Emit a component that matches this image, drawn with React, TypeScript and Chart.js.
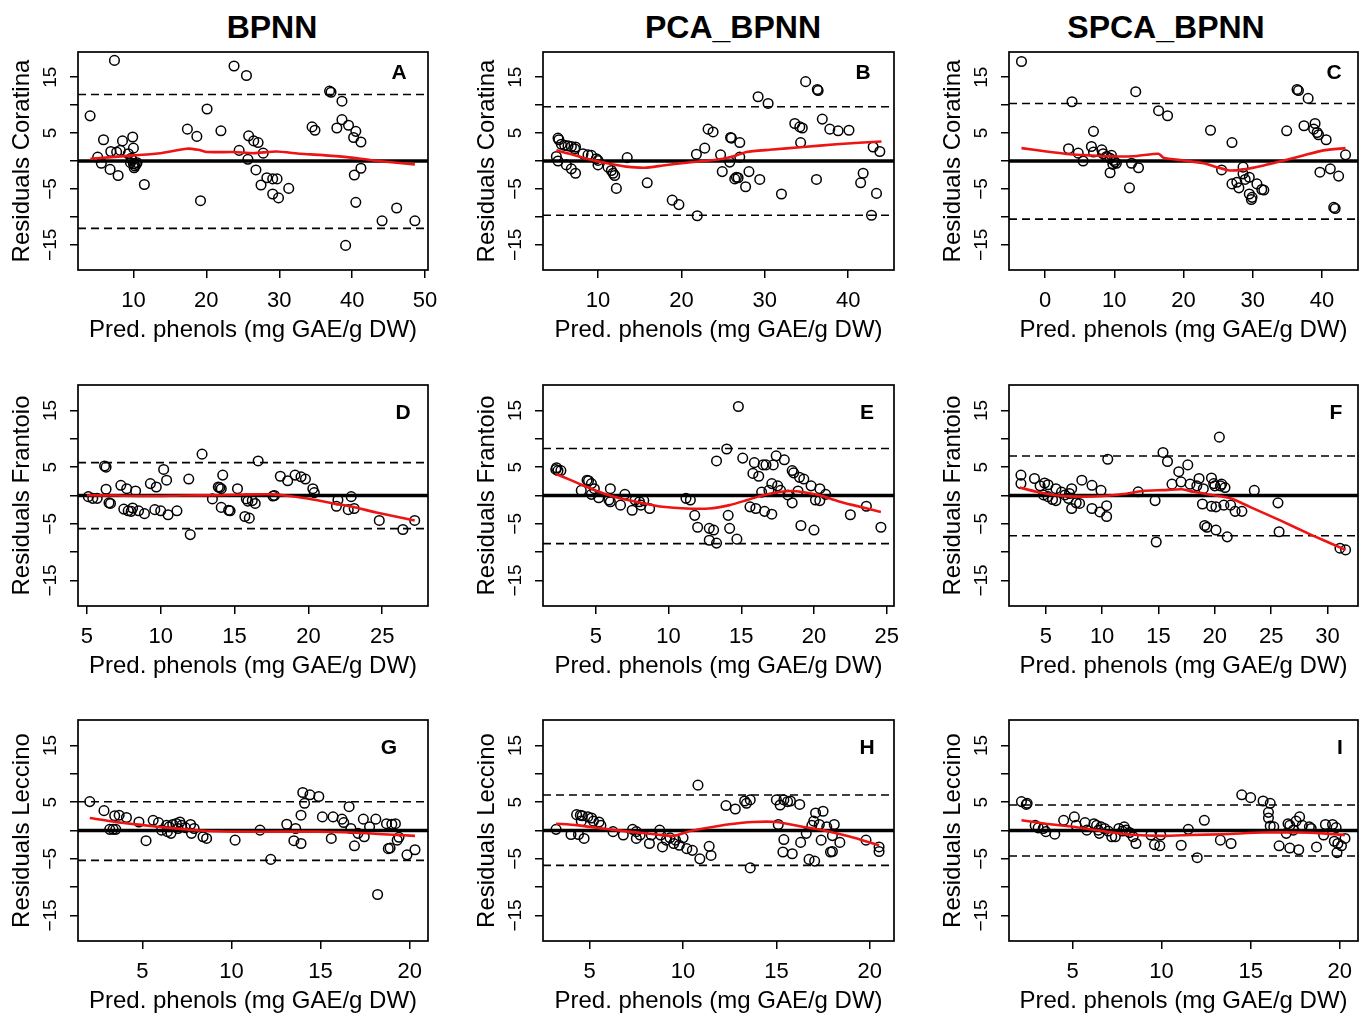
import { useEffect, useRef } from 'react';
import { Chart, registerables } from 'chart.js';

Chart.register(...registerables);

const FONT = '"Liberation Sans", Arial, Helvetica, sans-serif';

// ---------------- DATA ----------------
const methodTitles = ['BPNN', 'PCA_BPNN', 'SPCA_BPNN'];
const cultivarLabels = ['Residuals Coratina', 'Residuals Frantoio', 'Residuals Leccino'];
const panelLetters = ['A', 'B', 'C', 'D', 'E', 'F', 'G', 'H', 'I'];
const xAxisTitle = 'Pred. phenols (mg GAE/g DW)';

const yTickValues = [-15, -10, -5, 0, 5, 10, 15];
const yTickLabels = ['\u221215', '', '\u22125', '', '5', '', '15'];
const yRange = [-19.5, 19.5];

const xTickSets = [
  [10, 20, 30, 40, 50],
  [10, 20, 30, 40],
  [0, 10, 20, 30, 40],
  [5, 10, 15, 20, 25],
  [5, 10, 15, 20, 25],
  [5, 10, 15, 20, 25, 30],
  [5, 10, 15, 20],
  [5, 10, 15, 20],
  [5, 10, 15, 20],
];
const xRanges = [
  [2.4, 50.4],
  [3.4, 45.5],
  [-5.2, 45.2],
  [4.4, 28.1],
  [1.37, 25.5],
  [1.74, 32.7],
  [1.38, 21.03],
  [2.5, 21.3],
  [1.43, 21.03],
];

const upperLimits = [11.9, 9.7, 10.3, 5.8, 8.3, 6.97, 5.07, 6.26, 4.5];
const lowerLimits = [-12.05, -9.7, -10.4, -5.85, -8.5, -7.1, -5.27, -6.15, -4.5];

const aPoints = [[4.06,8.08],[7.4,18.0],[5.1,0.7],[5.6,-0.4],[5.9,3.8],[6.9,1.7],[6.8,-1.5],[7.9,-2.6],[7.7,1.6],[8.2,1.9],[8.5,3.6],[9.3,1.3],[9.9,4.3],[10.0,2.3],[9.7,0.5],[9.6,-0.3],[10.0,-0.5],[10.2,-0.9],[10.4,-0.6],[10.1,-1.2],[10.5,-0.3],[9.8,0.2],[11.5,-4.2],[17.4,5.7],[18.7,4.4],[19.2,-7.1],[20.1,9.3],[22.0,5.4],[23.8,17.0],[25.5,15.3],[24.5,1.9],[25.7,0.3],[25.8,4.5],[26.5,3.6],[27.1,3.3],[26.8,-1.6],[27.8,1.4],[27.5,-4.3],[28.3,-3.0],[29.1,-3.2],[29.7,-3.2],[29.1,-5.9],[29.9,-6.6],[31.3,-4.9],[34.5,6.1],[34.9,5.5],[36.9,12.5],[37.1,12.3],[37.9,5.9],[38.6,10.7],[38.6,7.4],[39.5,6.4],[40.5,5.3],[40.2,4.2],[41.2,3.4],[41.2,-1.3],[40.3,-2.5],[40.5,-7.4],[39.1,-15.1],[44.1,-10.7],[46.1,-8.4],[48.6,-10.7]];
const aFit = [[4.1,0.4],[10,1.0],[13.7,1.4],[17.3,2.2],[18.9,2.0],[20.1,1.6],[23.7,1.6],[26.5,1.4],[29.6,1.7],[32.9,1.3],[35.6,1.1],[39.3,0.7],[42.9,0.1],[48.6,-0.6]];

const bPoints = [[5.2,4.1],[5.3,3.8],[5.6,3.0],[6.0,2.8],[6.4,2.7],[6.8,2.6],[7.2,2.2],[7.3,2.5],[5.0,0.8],[5.2,0],[6.2,-0.7],[6.8,-1.4],[7.3,-2.2],[8.2,1.3],[8.8,1.1],[9.2,1.0],[9.8,0.4],[10.0,0.1],[10.0,-0.7],[11.2,-1.1],[11.6,-1.7],[11.8,-2.2],[12.0,-2.6],[12.2,-4.9],[13.5,0.6],[15.9,-3.9],[18.9,-7.0],[19.7,-7.8],[21.9,-9.8],[21.8,1.2],[22.8,2.3],[23.2,5.7],[23.8,5.2],[24.7,1.1],[24.9,-1.9],[25.8,-0.2],[25.9,4.2],[26.0,4.1],[27.0,3.3],[27.0,0.7],[26.4,-3.2],[26.6,-2.9],[26.8,-3.0],[27.7,-4.6],[28.1,-1.9],[29.2,11.5],[30.4,10.3],[29.4,-3.3],[32.0,-5.9],[33.6,6.7],[34.2,6.1],[34.5,5.9],[34.3,3.3],[34.9,14.2],[36.3,12.8],[36.4,12.6],[36.2,-3.3],[36.9,7.5],[37.8,5.7],[38.8,5.4],[40.1,5.5],[41.8,-2.2],[41.5,-3.9],[42.8,-9.7],[43.0,2.5],[43.8,1.7],[43.4,-5.8]];
const bFit = [[5.0,1.9],[6.6,1.3],[8.6,0.4],[11.4,-0.5],[13.4,-1.0],[15.6,-1.2],[17.8,-0.8],[20.6,-0.3],[23.4,0.1],[25.0,0.4],[26.6,1.0],[27.8,1.6],[30.6,2.0],[34.6,2.5],[38.6,3.0],[44.0,3.5]];

const cPoints = [[-3.4,17.8],[3.4,2.2],[3.9,10.6],[4.8,1.4],[5.5,0],[7.0,5.3],[6.7,2.6],[7.0,1.6],[8.2,2.0],[8.4,1.3],[8.9,0.8],[9.4,0.5],[9.6,1.0],[9.9,0.1],[10.1,-0.2],[10.3,-0.4],[9.8,-0.6],[9.4,-2.1],[12.2,-4.8],[12.5,-0.4],[13.1,12.4],[13.5,-1.2],[16.4,9.0],[17.7,8.1],[23.9,5.5],[25.5,-1.6],[27.0,3.3],[27.0,-4.1],[27.7,-3.8],[28.0,-4.8],[28.6,-1.1],[28.6,-2.3],[28.9,-3.3],[29.5,-2.9],[29.5,-5.9],[29.9,-6.5],[29.8,-6.9],[30.6,-4.1],[31.3,-5.1],[31.6,-5.2],[34.9,5.4],[36.4,12.8],[36.6,12.6],[38.0,11.2],[37.4,6.3],[39.0,6.7],[38.8,5.7],[39.3,5.1],[39.5,4.7],[40.6,3.8],[39.7,-2.0],[41.2,-1.4],[42.4,-2.7],[41.7,-8.3],[41.9,-8.5],[43.4,1.1]];
const cFit = [[-3.4,2.3],[0.2,1.7],[3.6,1.2],[6.5,1.0],[10.4,0.8],[13.3,0.9],[16.4,1.3],[17.1,0.6],[20.0,0.1],[22.9,-0.4],[24.8,-1.1],[26.7,-1.7],[28.7,-1.5],[31.6,-0.8],[34.5,0.1],[37.3,1.0],[40.2,1.9],[43.4,2.3]];

const dPoints = [[5.1,-0.2],[5.4,-0.5],[5.7,-0.5],[6.2,5.2],[6.3,5.0],[6.3,1.1],[6.5,-1.3],[6.6,-1.4],[7.3,1.8],[7.7,1.2],[7.5,-2.4],[7.8,-2.7],[8.0,-2.8],[8.1,-2.2],[8.3,0.8],[8.5,-2.7],[8.9,-3.2],[9.3,2.1],[9.7,1.5],[9.6,-2.5],[10.0,-2.7],[10.2,4.6],[10.4,2.7],[10.5,-3.4],[11.1,-2.7],[11.9,2.9],[12.0,-6.9],[12.8,7.3],[13.5,-0.6],[13.9,1.5],[14.0,1.4],[14.2,3.6],[14.1,1.2],[14.1,-2.1],[14.6,-2.6],[14.7,-2.7],[15.2,1.2],[15.8,-0.6],[15.9,-1.0],[16.2,-0.9],[15.7,-3.7],[16.0,-4.0],[16.4,-1.4],[16.6,6.1],[17.6,-0.1],[17.7,0.0],[18.1,3.4],[18.6,2.6],[19.1,3.6],[19.5,3.3],[19.8,2.9],[20.3,1.2],[20.4,0.5],[22.0,-0.8],[21.9,-1.9],[22.7,-2.5],[22.9,-0.2],[23.1,-2.3],[24.8,-4.4],[26.4,-6.0],[27.2,-4.4]];
const dFit = [[5.0,0.05],[7.0,0],[9.2,-0.1],[11.5,0],[13.8,0.05],[16.3,0.2],[17.6,0.2],[18.7,-0.1],[20.3,-0.7],[21.7,-1.4],[23.0,-2.0],[24.6,-3.0],[27.2,-4.4]];

const ePoints = [[2.25,4.6],[2.4,4.4],[2.6,4.4],[2.3,4.9],[4.0,0.9],[4.4,2.7],[4.5,2.6],[4.7,2.1],[4.9,1.2],[4.7,0.2],[5.2,-0.4],[6.0,1.2],[5.9,-0.8],[6.0,-1.1],[6.7,-1.7],[7.0,0.2],[7.5,-2.6],[7.7,-0.8],[8.0,-1.1],[8.1,-1.7],[8.3,-0.9],[8.7,-2.3],[11.2,-0.5],[11.5,-0.8],[11.8,-3.5],[12.0,-5.6],[12.8,-5.8],[13.1,-6.1],[12.8,-7.9],[13.3,-8.4],[13.3,6.1],[14.0,8.2],[14.1,-3.5],[14.2,-5.8],[14.7,-7.7],[14.8,15.7],[15.1,6.6],[15.6,-2.0],[15.9,5.8],[15.8,3.9],[16.2,3.4],[16.0,-2.3],[16.4,0.6],[16.5,5.4],[16.7,5.4],[16.9,0.9],[16.6,-2.8],[17.1,-3.3],[17.1,2.1],[17.2,5.4],[17.4,7.0],[17.5,1.7],[17.7,0.9],[17.96,6.3],[18.2,0.1],[18.5,4.4],[18.6,4.0],[18.5,-1.3],[18.9,0.8],[19.0,3.2],[19.3,2.9],[19.1,-5.3],[19.8,1.7],[20.1,-0.8],[20.0,-6.1],[20.4,1.2],[20.4,-0.9],[20.8,0.2],[22.5,-3.4],[23.6,-1.9],[24.6,-5.6]];
const eFit = [[2.25,3.8],[3.2,2.8],[4.4,1.5],[5.5,0.4],[6.65,-0.5],[8.3,-1.4],[9.6,-2.0],[11.2,-2.3],[12.8,-2.3],[14.2,-1.7],[15.4,-0.8],[16.5,0.05],[17.7,0.65],[18.6,0.8],[19.5,0.5],[20.4,0.05],[21.6,-0.95],[22.7,-1.7],[24.6,-2.9]];

const fPoints = [[2.8,3.6],[2.8,2.1],[4.0,3.0],[4.5,1.7],[4.9,2.2],[5.2,1.9],[4.8,0.1],[5.2,-0.2],[5.6,-0.7],[5.9,-0.9],[5.9,1.2],[6.4,0.6],[6.7,0.1],[7.0,-0.5],[7.1,0.35],[7.3,1.2],[7.3,-2.3],[7.7,-1.3],[8.0,-1.4],[8.2,2.7],[9.1,1.8],[9.1,-2.3],[9.8,-2.9],[9.9,0.9],[10.4,-1.8],[10.4,-3.7],[10.5,6.4],[13.2,0.65],[14.7,-0.9],[14.8,-8.2],[15.4,7.6],[15.8,6.0],[16.2,2.0],[16.8,4.2],[17.0,2.4],[17.6,5.4],[17.8,2.0],[18.6,3.0],[18.4,1.7],[18.9,-1.5],[18.98,1.2],[19.1,-5.3],[19.3,-5.6],[19.7,3.1],[19.9,2.1],[19.7,-1.9],[20.1,-2.0],[20.1,-6.1],[20.0,1.7],[20.4,10.3],[20.5,1.7],[20.6,2.0],[20.8,-1.7],[20.9,1.4],[21.1,-7.3],[21.4,-1.7],[21.8,-2.8],[22.4,-2.8],[23.5,0.9],[25.6,-1.3],[25.7,-6.4],[31.1,-9.3],[31.6,-9.6]];
const fFit = [[2.7,1.4],[4.2,0.65],[5.9,0.05],[8.0,-0.2],[10.1,-0.1],[11.9,0.25],[13.6,0.8],[15.4,0.95],[17.1,1.1],[18.1,0.65],[19.9,0.05],[21.4,-0.5],[23.1,-2.0],[25.8,-4.4],[28.5,-6.9],[31.6,-9.6]];

const gPoints = [[2.04,5.1],[2.84,3.5],[3.16,0.2],[3.35,0.2],[3.5,0.2],[3.44,2.6],[3.69,2.7],[4.1,2.3],[4.8,1.5],[5.2,-1.8],[5.6,1.8],[5.9,1.4],[6.07,0.06],[6.35,0.9],[6.4,-0.2],[6.5,0.65],[6.6,-0.5],[6.7,1.06],[6.9,1.24],[7.0,0.35],[7.1,1.5],[7.2,0.9],[7.4,0.5],[7.7,1.06],[7.75,-0.5],[7.9,0.35],[8.4,-1.1],[8.6,-1.4],[10.2,-1.7],[11.6,0.06],[12.2,-5.1],[13.1,1.1],[13.6,0.35],[13.5,-1.8],[13.9,-2.3],[13.9,2.7],[14.0,6.7],[14.1,4.8],[14.4,6.3],[14.9,6.0],[15.1,2.4],[15.6,-1.4],[15.7,2.4],[16.2,2.0],[16.3,1.4],[16.6,4.2],[16.7,0.35],[16.9,-2.7],[17.1,-0.5],[17.4,2.0],[17.45,-1.1],[17.75,0.65],[18.1,2.0],[18.2,-11.3],[18.7,1.2],[18.8,-3.2],[18.9,-3.1],[19.0,1.1],[19.2,1.2],[19.3,-1.7],[19.4,-1.2],[19.85,-4.3],[20.3,-3.4]];
const gFit = [[2.04,2.2],[3.5,1.5],[5.04,0.95],[6.35,0.5],[8.2,0],[10.1,-0.2],[12.9,-0.2],[14.8,-0.2],[16.7,-0.35],[18.5,-0.65],[20.3,-0.95]];

const hPoints = [[3.2,0.2],[4.0,-0.7],[4.3,2.8],[4.5,2.7],[4.4,-0.7],[4.55,1.65],[4.6,2.6],[4.7,-1.4],[4.9,2.4],[5.1,2.2],[5.2,1.65],[5.5,1.5],[5.6,0.9],[6.25,-0.2],[6.8,-0.8],[7.3,0.2],[7.5,-0.2],[7.5,-1.4],[7.7,-0.8],[8.2,-2.3],[8.3,-0.8],[8.75,0.06],[8.8,-0.8],[8.9,-2.9],[9.1,-1.7],[9.3,-1.3],[9.5,-2.3],[9.6,-1.7],[9.8,-2.6],[10.0,-1.3],[10.2,-3.2],[10.5,-3.5],[10.8,8.0],[10.9,-5.0],[11.4,-2.8],[11.5,-4.4],[12.3,4.4],[12.8,3.8],[13.3,5.2],[13.4,4.8],[13.6,5.4],[13.6,-6.6],[15.0,5.4],[15.1,1.06],[15.2,4.5],[15.4,5.4],[15.4,-1.6],[15.35,-3.8],[15.6,5.1],[15.85,-4.1],[15.75,5.2],[16.25,4.6],[16.3,-2.1],[16.6,-0.5],[16.75,-5.1],[16.9,0.9],[17.0,1.65],[17.05,-5.4],[17.1,3.1],[17.3,1.06],[17.4,-1.7],[17.5,3.4],[17.7,0.65],[17.9,-3.8],[18.0,-3.7],[18.1,1.06],[18.0,-0.9],[18.4,-2.1],[19.8,-1.7],[20.5,-2.9],[20.5,-3.7]];
const hFit = [[3.2,1.2],[4.3,0.95],[5.7,0.35],[7.1,-0.2],[8.6,-0.7],[9.5,-0.95],[10.4,-0.1],[11.1,0.35],[12.5,1.1],[13.75,1.5],[15.0,1.5],[16.4,0.65],[17.5,0.05],[18.6,-0.8],[19.6,-1.7],[20.5,-2.6]];

const iPoints = [[2.13,5.1],[2.4,4.6],[2.45,4.8],[2.9,0.9],[3.07,0.47],[3.35,0.35],[3.5,-0.2],[4.0,-0.65],[4.5,1.8],[5.1,2.4],[5.2,0.9],[5.7,1.4],[5.8,0.06],[6.2,1.2],[6.35,0.9],[6.45,0.06],[6.5,-0.5],[6.6,0.65],[6.8,0.35],[7.0,-0.1],[7.2,-1.1],[7.4,-1.1],[7.6,0.35],[7.8,-0.1],[7.9,0.65],[8.0,0.06],[8.2,-0.35],[8.4,-1.1],[8.56,-2.3],[9.4,-0.8],[9.6,-2.5],[9.9,-2.7],[9.95,-0.8],[11.1,-2.6],[11.5,0.2],[12.0,-4.8],[12.4,1.8],[13.3,-1.7],[13.9,-2.3],[14.5,6.3],[15.0,5.8],[15.7,5.2],[16.0,3.2],[16.0,2.2],[16.1,0.8],[16.1,4.8],[16.3,0.65],[16.6,-2.7],[17.0,-0.5],[17.1,1.2],[17.2,0.9],[17.2,-3.1],[17.4,0.06],[17.55,1.65],[17.7,-3.4],[17.75,2.4],[17.9,0.9],[18.3,0.65],[18.4,0.35],[18.7,-2.9],[19.1,-0.8],[19.2,1.06],[19.6,1.06],[19.7,-1.9],[19.8,0.5],[19.85,-3.9],[19.9,-2.3],[20.1,-2.7],[20.3,-1.4]];
const iFit = [[2.13,1.8],[3.5,1.2],[5.04,0.65],[6.7,-0.1],[8.2,-0.7],[10.1,-0.95],[11.6,-0.8],[13.5,-0.65],[15.7,-0.35],[17.6,-0.35],[19.1,-0.5],[20.3,-0.8]];

const residualSets = [aPoints, bPoints, cPoints, dPoints, ePoints, fPoints, gPoints, hPoints, iPoints];
const fitSets = [aFit, bFit, cFit, dFit, eFit, fFit, gFit, hFit, iFit];

// ---------------- LAYOUT ----------------
const colLefts = [78, 543, 1009];
const colRights = [428, 894, 1358];
const rowTops = [52, 385, 720];
const rowBottoms = [270, 606, 941];
const Y_AXIS_W = 78;
const X_AXIS_H = 80;
const PAD_TOP = 12;
const PAD_RIGHT = 9;
const titleCenters = [272, 733, 1166];
const letterOffsets = [[29, 21], [31, 21], [24, 21], [25, 28], [27, 28], [22, 28], [39, 28], [27, 28], [18, 28]];

const framePlugin = {
  id: 'frame',
  afterDatasetsDraw(chart: any, _args: any, opts: any) {
    const { ctx, chartArea: a } = chart;
    ctx.save();
    ctx.strokeStyle = '#000';
    ctx.lineWidth = 1.7;
    ctx.strokeRect(a.left, a.top, a.right - a.left, a.bottom - a.top);
    ctx.font = `bold 21px ${FONT}`;
    ctx.fillStyle = '#000';
    ctx.textAlign = 'center';
    ctx.textBaseline = 'middle';
    ctx.fillText(opts.letter, a.right - opts.dx, a.top + opts.dy);
    ctx.restore();
  },
};

function ResidualPanel({ index }: { index: number }) {
  const ref = useRef<HTMLCanvasElement | null>(null);
  const row = Math.floor(index / 3);
  const col = index % 3;
  const canvasLeft = colLefts[col] - Y_AXIS_W;
  const canvasTop = rowTops[row] - PAD_TOP;
  const width = colRights[col] + PAD_RIGHT - canvasLeft;
  const height = rowBottoms[row] + X_AXIS_H - canvasTop;

  useEffect(() => {
    const canvas = ref.current;
    if (!canvas) return;
    const [xMin, xMax] = xRanges[index];
    const pts = residualSets[index].map(([x, y]) => ({ x, y }));
    const fit = fitSets[index].map(([x, y]) => ({ x, y }));
    const xTicks = xTickSets[index];
    const chart = new Chart(canvas, {
      type: 'scatter',
      data: {
        datasets: [
          {
            data: fit,
            showLine: true,
            borderColor: 'rgb(238,20,20)',
            borderWidth: 2.6,
            pointRadius: 0,
            tension: 0.2,
            order: 0,
          },
          {
            data: [{ x: xMin, y: 0 }, { x: xMax, y: 0 }],
            showLine: true,
            borderColor: '#000',
            borderWidth: 3.5,
            pointRadius: 0,
            order: 1,
          },
          {
            data: [{ x: xMin, y: upperLimits[index] }, { x: xMax, y: upperLimits[index] }],
            showLine: true,
            borderColor: '#000',
            borderWidth: 1.6,
            borderDash: [8, 5],
            pointRadius: 0,
            order: 2,
          },
          {
            data: [{ x: xMin, y: lowerLimits[index] }, { x: xMax, y: lowerLimits[index] }],
            showLine: true,
            borderColor: '#000',
            borderWidth: 1.6,
            borderDash: [8, 5],
            pointRadius: 0,
            order: 2,
          },
          {
            data: pts,
            showLine: false,
            pointStyle: 'circle',
            pointRadius: 4.8,
            pointHoverRadius: 4.8,
            pointBorderWidth: 1.5,
            borderColor: '#000',
            backgroundColor: 'rgba(0,0,0,0)',
            order: 3,
          },
        ],
      },
      options: {
        animation: false,
        responsive: false,
        maintainAspectRatio: false,
        events: [],
        layout: { padding: { top: PAD_TOP, right: PAD_RIGHT, left: 0, bottom: 0 } },
        plugins: {
          legend: { display: false },
          tooltip: { enabled: false },
          frame: { letter: panelLetters[index], dx: letterOffsets[index][0], dy: letterOffsets[index][1] },
        } as any,
        scales: {
          x: {
            type: 'linear',
            min: xMin,
            max: xMax,
            afterBuildTicks: (s: any) => {
              s.ticks = xTicks.map((v) => ({ value: v }));
            },
            afterFit: (s: any) => {
              s.height = X_AXIS_H;
              s.paddingLeft = 0;
              s.paddingRight = 0;
            },
            ticks: {
              autoSkip: false,
              maxRotation: 0,
              minRotation: 0,
              padding: 10,
              color: '#000',
              font: { family: FONT, size: 22 },
              callback: (v: any) => String(v),
            },
            grid: {
              display: true,
              drawOnChartArea: false,
              drawTicks: true,
              tickLength: 8,
              color: '#000',
              lineWidth: 1.5,
            },
            border: { display: false },
            title: {
              display: true,
              text: xAxisTitle,
              color: '#000',
              font: { family: FONT, size: 24 },
              padding: { top: 0, bottom: 5 },
            },
          },
          y: {
            type: 'linear',
            min: yRange[0],
            max: yRange[1],
            afterBuildTicks: (s: any) => {
              s.ticks = yTickValues.map((v) => ({ value: v }));
            },
            afterFit: (s: any) => {
              s.width = Y_AXIS_W;
              s.paddingTop = 0;
              s.paddingBottom = 0;
            },
            ticks: {
              autoSkip: false,
              minRotation: 90,
              maxRotation: 90,
              crossAlign: 'center',
              padding: 3.5,
              color: '#000',
              font: { family: FONT, size: 19 },
              callback: (_v: any, i: number) => yTickLabels[i],
            },
            grid: {
              display: true,
              drawOnChartArea: false,
              drawTicks: true,
              tickLength: 8,
              color: '#000',
              lineWidth: 1.5,
            },
            border: { display: false },
            title: {
              display: true,
              text: cultivarLabels[row],
              color: '#000',
              font: { family: FONT, size: 24 },
              padding: { top: 8, bottom: 0 },
            },
          },
        },
      } as any,
      plugins: [framePlugin as any],
    });
    return () => chart.destroy();
  }, [index, row]);

  return (
    <canvas
      ref={ref}
      width={width}
      height={height}
      style={{ position: 'absolute', left: canvasLeft, top: canvasTop, width, height }}
    />
  );
}

export default function App() {
  return (
    <div
      style={{
        position: 'absolute',
        left: 0,
        top: 0,
        width: 1367,
        height: 1013,
        overflow: 'hidden',
        background: '#fff',
      }}
    >
      {methodTitles.map((t, i) => (
        <div
          key={t}
          style={{
            position: 'absolute',
            left: titleCenters[i],
            top: 11,
            transform: 'translateX(-50%)',
            font: `bold 32px ${FONT}`,
            lineHeight: '32px',
            whiteSpace: 'nowrap',
            color: '#000',
          }}
        >
          {t}
        </div>
      ))}
      {panelLetters.map((l, i) => (
        <ResidualPanel key={l} index={i} />
      ))}
    </div>
  );
}
